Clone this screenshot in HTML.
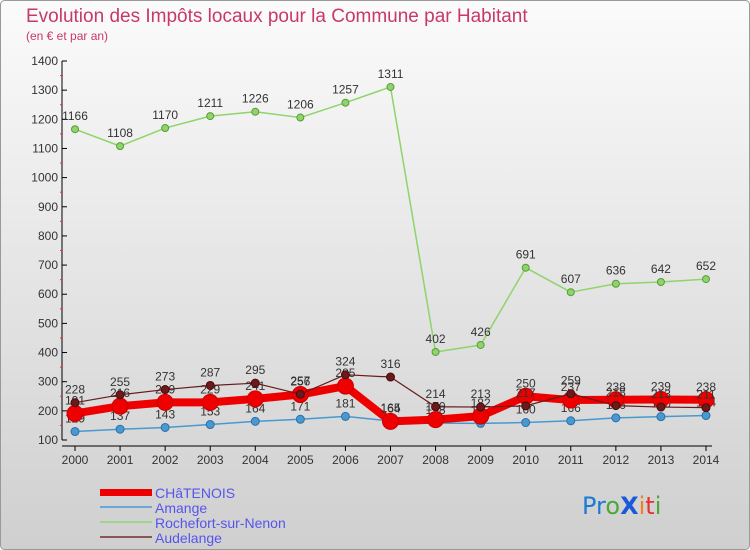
<!DOCTYPE html>
<html><head><meta charset="utf-8"><style>
html,body{margin:0;padding:0;width:750px;height:550px;overflow:hidden}
svg{display:block;font-family:"Liberation Sans",sans-serif}
</style></head><body>
<svg id="chart" width="750" height="550" viewBox="0 0 750 550">
<defs>
<linearGradient id="bg" x1="0" y1="0" x2="0" y2="1"><stop offset="0" stop-color="#fbfbfb"/><stop offset="1" stop-color="#cfcfcf"/></linearGradient>
</defs>
<rect x="0.5" y="0.5" width="749" height="549" rx="4" fill="url(#bg)" stroke="#999"/>
<text x="26" y="22" font-size="19" fill="#c8386a">Evolution des Impôts locaux pour la Commune par Habitant</text>
<text x="26" y="40" font-size="12" fill="#c8386a">(en € et par an)</text>
<g id="axes"></g>
<g id="series"></g>
<g id="legend" font-size="14" fill="#5555ee">
<rect x="100" y="489" width="52" height="7" fill="#e00"/>
<text x="155" y="498">CHâTENOIS</text>
<rect x="100" y="506" width="52" height="2" fill="#6aa6d6"/>
<text x="155" y="513">Amange</text>
<rect x="100" y="521" width="52" height="2" fill="#9fd68a"/>
<text x="155" y="528">Rochefort-sur-Nenon</text>
<rect x="100" y="536" width="52" height="2" fill="#8a5555"/>
<text x="155" y="543">Audelange</text>
</g>
<g font-size="24" font-family="'DejaVu Sans',sans-serif">
<text x="582" y="514"><tspan fill="#1a7ad8">Pr</tspan><tspan fill="#4aa83a">o</tspan><tspan fill="#1a5ad8" font-weight="bold">X</tspan><tspan fill="#f08020">i</tspan><tspan fill="#e83030">t</tspan><tspan fill="#4aa83a">i</tspan></text>
</g>
</svg>
<script>
const years=[2000,2001,2002,2003,2004,2005,2006,2007,2008,2009,2010,2011,2012,2013,2014];
const yTicks=[100,200,300,400,500,600,700,800,900,1000,1100,1200,1300,1400];
const chatenois=[191,216,229,229,241,256,285,164,170,182,250,237,238,239,238];
const amange=[129,137,143,153,164,171,181,165,158,157,160,166,176,180,184];
const rochefort=[1166,1108,1170,1211,1226,1206,1257,1311,402,426,691,607,636,642,652];
const audelange=[228,255,273,287,295,257,324,316,214,213,217,259,218,213,211];
const NS='http://www.w3.org/2000/svg';
const X=i=>75+i*(631/(years.length-1));
const Y=v=>440-(v-100)*379/1300;
function mk(tag,attrs,parent){const e=document.createElementNS(NS,tag);for(const k in attrs)e.setAttribute(k,attrs[k]);parent.appendChild(e);return e;}
const ax=document.getElementById('axes');
const yl=mk('line',{x1:62,y1:Y(1400),x2:62,y2:Y(100),stroke:'#000'},ax);


const xl=mk('line',{x1:62,y1:446,x2:712,y2:446,stroke:'#000'},ax);


yTicks.forEach(v=>{
 mk('line',{x1:62,y1:Y(v),x2:67,y2:Y(v),stroke:'#000'},ax);
 if(v<1400) mk('line',{x1:60,y1:Y(v+50),x2:63,y2:Y(v+50),stroke:'#e33'},ax);
 const t=mk('text',{x:58,y:Y(v)+4,'text-anchor':'end','font-size':12,fill:'#333'},ax);
 t.textContent=v;
 
 
});
years.forEach((yr,i)=>{
 mk('line',{x1:X(i),y1:446,x2:X(i),y2:451,stroke:'#000'},ax);
 const t=mk('text',{x:X(i),y:464,'text-anchor':'middle','font-size':12,fill:'#333'},ax);
 t.textContent=yr;
 
 
});
const sg=document.getElementById('series');
function series(name,data,color,w,r,stroke){
 const g=mk('g',{},sg);
 
 
 const p=mk('polyline',{points:data.map((v,i)=>X(i)+','+Y(v)).join(' '),fill:'none',stroke:color,'stroke-width':w,'stroke-linejoin':'round'},g);
 
 
 data.forEach((v,i)=>{
  const c=mk('circle',{cx:X(i),cy:Y(v),r:r,fill:color,stroke:stroke,'stroke-width':1},g);
  
  
  const t=mk('text',{x:X(i),y:Y(v)-9,'text-anchor':'middle','font-size':12,fill:'#333'},g);
  t.textContent=v;
  
  
 });
}
series('rochefort',rochefort,'#8ed46a',1.5,3.5,'#5a9a3a');
series('amange',amange,'#4a98d0',1.5,4,'#2a70a8');
series('chatenois',chatenois,'#ee0000',8,8,'#cc0000');
series('audelange',audelange,'#6a1a1a',1.2,4,'#4a0a0a');
</script>
</body></html>
